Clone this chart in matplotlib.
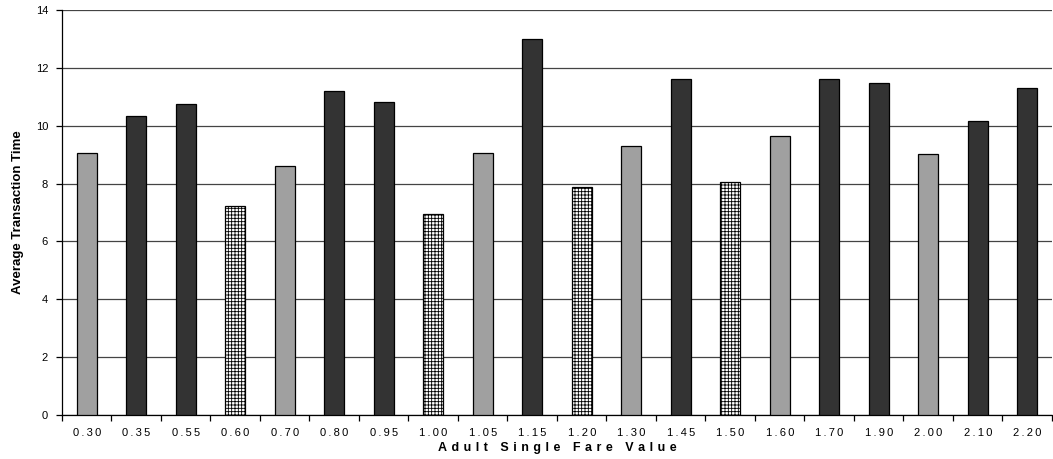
import numpy as np
import matplotlib
matplotlib.use("Agg")
import matplotlib.pyplot as plt

plt.rcParams['font.family'] = ['Liberation Sans', 'DejaVu Sans']
plt.rcParams['hatch.linewidth'] = 0.6

# fare values and average transaction time per fare
fares = ["0.30", "0.35", "0.55", "0.60", "0.70", "0.80", "0.95", "1.00", "1.05", "1.15",
         "1.20", "1.30", "1.45", "1.50", "1.60", "1.70", "1.90", "2.00", "2.10", "2.20"]
times = [9.05, 10.33, 10.74, 7.23, 8.61, 11.2, 10.82, 6.95, 9.07, 13.0,
         7.87, 9.31, 11.6, 8.07, 9.66, 11.6, 11.49, 9.02, 10.17, 11.31]
# fare group: g = grey, d = dark, h = hatched
groups = ["g", "d", "d", "h", "g", "d", "d", "h", "g", "d",
          "h", "g", "d", "h", "g", "d", "d", "g", "d", "d"]

styles = {"g": dict(color="#a0a0a0", hatch=None),
          "d": dict(color="#333333", hatch=None),
          "h": dict(color="white", hatch="+++++")}


def spaced(s, sep="\u2009"):
    return sep.join(s)


fig = plt.figure(figsize=(10.53, 4.59), dpi=100)
ax = fig.add_axes([62 / 1053, 44 / 459, 1 - 62 / 1053 - 0.001, 405 / 459])

x = np.arange(len(fares))
for xi, v, g in zip(x, times, groups):
    st = styles[g]
    ax.bar(xi, v, width=0.4, color=st["color"], hatch=st["hatch"],
           edgecolor="black", linewidth=0.9, zorder=3)

ax.set_xlim(-0.5, len(fares) - 0.5)
ax.set_ylim(0, 14)
ax.set_yticks(np.arange(0, 15, 2))
ax.yaxis.grid(True, color="#444444", linewidth=0.9, zorder=0)
ax.set_axisbelow(True)

ax.set_xticks(x)
ax.set_xticklabels([spaced(f) for f in fares], fontsize=8)
ax.set_xticks(np.arange(-0.5, len(fares), 1), minor=True)
ax.tick_params(axis="x", which="major", length=0, pad=9)
ax.tick_params(axis="x", which="minor", length=4, width=0.9, direction="out")
ax.tick_params(axis="y", length=4, width=0.9, labelsize=8, pad=6)

for s in ["top", "right"]:
    ax.spines[s].set_visible(False)
ax.spines["left"].set_linewidth(0.9)
ax.spines["bottom"].set_linewidth(0.9)

ax.set_xlabel(spaced("Adult Single Fare Value", "\u200a "), fontsize=9, fontweight="bold", labelpad=3)
ax.set_ylabel("Average Transaction Time", fontsize=9.5, fontweight="bold", labelpad=8)

fig.savefig("out.png", dpi=100)
